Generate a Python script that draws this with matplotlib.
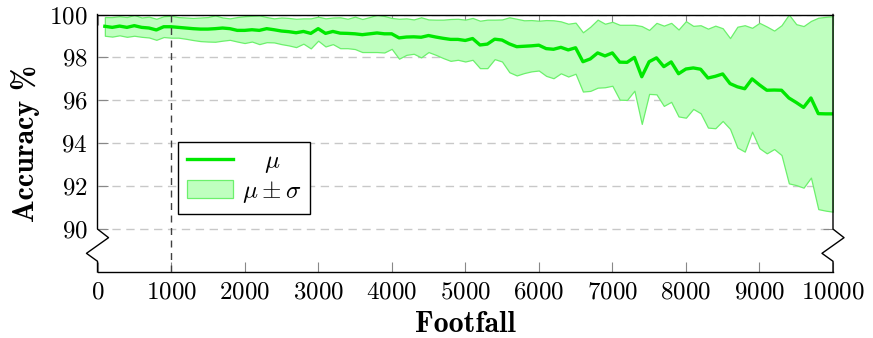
import numpy as np
import matplotlib
matplotlib.use("Agg")
import matplotlib.pyplot as plt
import matplotlib.transforms as mtransforms

plt.rcParams["font.family"] = "serif"
plt.rcParams["font.serif"] = ["cmr10"]
plt.rcParams["mathtext.fontset"] = "cm"
plt.rcParams["axes.formatter.use_mathtext"] = True

# accuracy (%) versus footfall, sampled every 100 steps
footfall = np.arange(100, 10001, 100)

mean_acc = [
    99.45, 99.40, 99.46, 99.40, 99.48, 99.40, 99.37, 99.28, 99.43, 99.43,
    99.40, 99.37, 99.34, 99.32, 99.32, 99.34, 99.37, 99.34, 99.26, 99.26,
    99.29, 99.26, 99.34, 99.29, 99.23, 99.20, 99.15, 99.21, 99.12, 99.34,
    99.12, 99.21, 99.13, 99.12, 99.10, 99.06, 99.10, 99.14, 99.10, 99.10,
    98.91, 98.95, 98.96, 98.94, 99.02, 98.95, 98.89, 98.84, 98.84, 98.79,
    98.88, 98.58, 98.62, 98.85, 98.81, 98.63, 98.50, 98.52, 98.54, 98.57,
    98.41, 98.38, 98.47, 98.35, 98.45, 97.80, 97.93, 98.21, 98.07, 98.21,
    97.78, 97.77, 98.00, 97.10, 97.80, 97.98, 97.57, 97.79, 97.24, 97.46,
    97.51, 97.45, 97.04, 97.12, 97.23, 96.78, 96.63, 96.54, 97.00, 96.72,
    96.47, 96.48, 96.47, 96.11, 95.90, 95.67, 96.11, 95.38, 95.37, 95.37,
]

upper_acc = [
    99.88, 99.88, 99.92, 99.88, 99.98, 99.86, 99.90, 99.80, 99.92, 99.94,
    99.88, 99.86, 99.84, 99.86, 99.88, 99.96, 99.86, 99.82, 99.88, 99.92,
    99.94, 99.96, 99.88, 99.82, 99.86, 99.84, 99.80, 99.82, 99.82, 99.90,
    99.82, 99.86, 99.87, 99.80, 99.90, 99.79, 99.88, 99.99, 99.93, 99.84,
    99.80, 99.82, 99.77, 99.87, 99.77, 99.76, 99.76, 99.79, 99.80, 99.76,
    99.84, 99.71, 99.76, 99.76, 99.77, 99.87, 99.80, 99.73, 99.74, 99.71,
    99.74, 99.73, 99.68, 99.57, 99.62, 99.17, 99.43, 99.76, 99.57, 99.66,
    99.52, 99.52, 99.52, 99.46, 99.28, 99.61, 99.48, 99.61, 99.30, 99.69,
    99.47, 99.50, 99.34, 99.48, 99.36, 98.90, 99.43, 99.50, 99.38, 99.61,
    99.44, 99.25, 99.50, 100.0, 99.55, 99.46, 99.70, 99.85, 99.89, 99.92,
]

lower_acc = [
    99.01, 98.97, 99.03, 98.96, 99.01, 98.96, 98.93, 98.82, 98.95, 98.92,
    98.92, 98.87, 98.81, 98.76, 98.74, 98.73, 98.78, 98.82, 98.74, 98.67,
    98.74, 98.62, 98.71, 98.70, 98.62, 98.56, 98.48, 98.64, 98.42, 98.78,
    98.51, 98.62, 98.43, 98.43, 98.39, 98.25, 98.25, 98.25, 98.23, 98.40,
    97.94, 98.12, 98.17, 98.00, 98.25, 98.12, 97.97, 97.84, 97.89, 97.81,
    97.89, 97.50, 97.50, 97.92, 97.81, 97.31, 97.16, 97.27, 97.35, 97.39,
    97.14, 97.03, 97.26, 97.11, 97.24, 96.41, 96.44, 96.59, 96.61, 96.68,
    96.03, 96.02, 96.45, 94.90, 96.30, 96.28, 95.74, 95.93, 95.25, 95.19,
    95.60, 95.40, 94.73, 94.70, 95.04, 94.67, 93.80, 93.61, 94.54, 93.77,
    93.53, 93.73, 93.45, 92.13, 92.05, 91.93, 92.40, 90.93, 90.86, 90.81,
]

x_ticks = np.arange(0, 10001, 1000)
y_ticks = np.arange(90, 101, 2)
y_min, y_max = 88, 100
marker_footfall = 1000

line_green = "#00e800"
band_green = "#bfffbf"
band_edge = "#6cf06c"

fig = plt.figure(figsize=(8.73, 3.38), dpi=100)
ax = fig.add_axes([97.5 / 873, 1 - 272 / 338, 735.5 / 873, 257.5 / 338])

ax.fill_between(footfall, lower_acc, upper_acc, facecolor=band_green,
                edgecolor=band_edge, linewidth=0.9, label=r"$\mu \pm \sigma$",
                zorder=2)
ax.plot(footfall, mean_acc, color=line_green, linewidth=2.4, label=r"$\mu$",
        zorder=3)
ax.axvline(marker_footfall, color="#404040", linestyle=(0, (5, 4)),
           linewidth=1.0, zorder=4)

ax.set_xlim(0, 10000)
ax.set_ylim(y_min, y_max)
ax.set_xticks(x_ticks)
ax.set_yticks(y_ticks)
ax.yaxis.grid(True, color="#c8c8c8", linestyle=(0, (6, 4)), linewidth=1.0)
ax.set_axisbelow(True)
ax.tick_params(direction="in", top=True, right=True, length=7.5, width=0.8,
               color="#888888", labelsize=18, pad=7)

# y axis is broken below 90: draw the side spines by hand with a zigzag
ax.spines["left"].set_visible(False)
ax.spines["right"].set_visible(False)
for s in ("top", "bottom"):
    ax.spines[s].set_linewidth(1.0)
trans = mtransforms.blended_transform_factory(ax.transAxes, ax.transData)
dz = 0.015
for x0 in (0, 1):
    ax.plot([x0, x0, x0 + dz, x0 - dz, x0, x0],
            [y_max, 90, 89.6, 88.87, 88.5, y_min],
            transform=trans, color="black", linewidth=1.0, clip_on=False,
            zorder=5)

ax.set_xlabel("Footfall", fontfamily="cmb10", fontsize=21.5, labelpad=5)
ax.set_ylabel("Accuracy %", fontfamily="cmb10", fontsize=21.5, labelpad=7)

handles, labels = ax.get_legend_handles_labels()
leg = ax.legend(handles[::-1], labels[::-1], loc="upper left",
                bbox_to_anchor=(0.11, 0.505), borderaxespad=0, fontsize=18,
                fancybox=False, framealpha=1, edgecolor="black",
                handlelength=1.85, handletextpad=0.35, labelspacing=0.15,
                borderpad=0.35)
leg.get_frame().set_linewidth(1.0)

# centre the short label over the longer one
fig.canvas.draw()
texts = leg.get_texts()
renderer = fig.canvas.get_renderer()
w0 = texts[0].get_window_extent(renderer).width
w1 = texts[1].get_window_extent(renderer).width
texts[0].set_x((w1 - w0) / 2)

fig.savefig("out.png", dpi=100)
